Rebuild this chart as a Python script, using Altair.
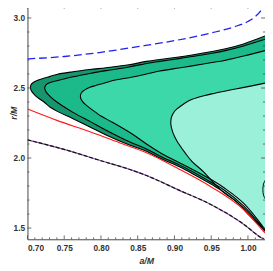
import altair as alt
import pandas as pd

# ---------------- data ----------------
x_major = [0.70, 0.75, 0.80, 0.85, 0.90, 0.95, 1.00]
x_minor = [0.71, 0.72, 0.73, 0.74, 0.76, 0.77, 0.78, 0.79, 0.81, 0.82, 0.83, 0.84,
           0.86, 0.87, 0.88, 0.89, 0.91, 0.92, 0.93, 0.94, 0.96, 0.97, 0.98, 0.99,
           1.01, 1.02]
y_major = [1.5, 2.0, 2.5, 3.0]
y_minor = [1.6, 1.7, 1.8, 1.9, 2.1, 2.2, 2.3, 2.4, 2.6, 2.7, 2.8, 2.9]

blue_a = [0.700, 0.750, 0.800, 0.850, 0.900, 0.950, 0.980, 1.000, 1.010, 1.018, 1.023]
blue_r = [2.708, 2.725, 2.755, 2.795, 2.838, 2.893, 2.935, 2.975, 3.010, 3.055, 3.100]

red_a = [0.700, 0.740, 0.785, 0.829, 0.862, 0.906, 0.950, 0.994, 1.023]
red_r = [2.350, 2.269, 2.188, 2.102, 2.038, 1.922, 1.794, 1.632, 1.465]

bd_a = [0.700, 0.751, 0.800, 0.844, 0.862, 0.906, 0.950, 0.994, 1.017, 1.022]
bd_r = [2.130, 2.060, 1.981, 1.910, 1.875, 1.771, 1.667, 1.528, 1.435, 1.420]

# region 1 (outermost, darkest)
r1_a = [0.704, 0.7045, 0.7055, 0.707, 0.7100, 0.714, 0.7225, 0.731, 0.740, 0.762,
        0.785, 0.807, 0.838, 0.862, 0.880, 0.906, 0.924, 0.951, 0.968, 0.994, 1.0232]
r1_up = [2.505, 2.519, 2.528, 2.536, 2.547, 2.556, 2.569, 2.583, 2.597, 2.616,
         2.632, 2.645, 2.666, 2.690, 2.704, 2.722, 2.736, 2.760, 2.778, 2.815, 2.871]
r1_lo = [2.505, 2.490, 2.479, 2.467, 2.450, 2.431, 2.400, 2.363, 2.335, 2.281,
         2.222, 2.165, 2.095, 2.049, 2.000, 1.939, 1.890, 1.810, 1.755, 1.644, 1.477]

# region 2
r2_a = [0.7235, 0.7245, 0.726, 0.7285, 0.731, 0.740, 0.762, 0.785, 0.807, 0.838,
        0.862, 0.880, 0.906, 0.924, 0.951, 0.968, 0.994, 1.0232]
r2_up = [2.500, 2.517, 2.526, 2.534, 2.540, 2.552, 2.580, 2.604, 2.624, 2.650,
         2.675, 2.690, 2.710, 2.725, 2.748, 2.765, 2.800, 2.848]
r2_lo = [2.500, 2.480, 2.467, 2.452, 2.439, 2.400, 2.326, 2.262, 2.199, 2.118,
         2.065, 2.015, 1.953, 1.905, 1.824, 1.770, 1.658, 1.484]

# region 3
r3_a = [0.772, 0.7725, 0.7735, 0.775, 0.778, 0.785, 0.793, 0.800, 0.815, 0.843,
        0.862, 0.880, 0.906, 0.924, 0.951, 0.968, 0.994, 1.0232]
r3_up = [2.442, 2.456, 2.466, 2.475, 2.487, 2.505, 2.518, 2.528, 2.552, 2.578,
         2.600, 2.621, 2.643, 2.658, 2.682, 2.697, 2.728, 2.767]
r3_lo = [2.442, 2.427, 2.415, 2.404, 2.386, 2.356, 2.326, 2.300, 2.257, 2.170,
         2.100, 2.040, 1.968, 1.920, 1.843, 1.786, 1.678, 1.491]

# region 4 (innermost, lightest)
r4_a = [0.895, 0.8955, 0.8965, 0.898, 0.900, 0.903, 0.906, 0.915, 0.924, 0.940,
        0.955, 0.968, 0.985, 1.000, 1.0232]
r4_up = [2.255, 2.282, 2.300, 2.316, 2.332, 2.349, 2.361, 2.395, 2.419, 2.445,
         2.463, 2.477, 2.495, 2.510, 2.535]
r4_lo = [2.255, 2.226, 2.204, 2.180, 2.156, 2.126, 2.100, 2.033, 1.975, 1.900,
         1.815, 1.750, 1.685, 1.600, 1.485]

# small loop at the right edge
loop_a = [1.0232, 1.0212, 1.0203, 1.0212, 1.0232]
loop_r = [1.840, 1.815, 1.775, 1.735, 1.710]

region_colors = ["#17956d", "#1cba8a", "#3dd8aa", "#9af0d9"]

FONT = "Liberation Sans"
FRAME = "#444444"
W, H = 244, 241


def build(height, ytop, pad_top):
    xs = alt.Scale(domain=[0.70, 1.0232], nice=False, zero=False)
    ys = alt.Scale(domain=[1.42, ytop], nice=False, zero=False)

    xaxis = alt.Axis(values=x_major, format=".2f", title="a/M", ticks=False, tickSize=0,
                     domain=False, grid=False, labelFont=FONT, labelFontWeight="bold",
                     labelFontSize=8.5, labelColor="#333333", labelPadding=5,
                     titleFont=FONT, titleFontStyle="italic", titleFontWeight="bold",
                     titleFontSize=9, titleColor="#333333", titleBaseline="middle",
                     titleY=22)
    yaxis = alt.Axis(values=y_major, format=".1f", title="r/M", ticks=False, tickSize=0,
                     domain=False, grid=False, labelFont=FONT, labelFontWeight="bold",
                     labelFontSize=8.5, labelColor="#333333", labelPadding=3,
                     titleFont=FONT, titleFontStyle="italic", titleFontWeight="bold",
                     titleFontSize=9, titleColor="#333333", titleBaseline="middle",
                     titleX=-14, titleY=111 + (height - H), titleAngle=270)

    def X(f):
        return alt.X(f, scale=xs, axis=xaxis)

    def Y(f):
        return alt.Y(f, scale=ys, axis=yaxis)

    layers = []
    regions = [(r1_a, r1_lo, r1_up), (r2_a, r2_lo, r2_up),
               (r3_a, r3_lo, r3_up), (r4_a, r4_lo, r4_up)]
    for i, (a, lo, up) in enumerate(regions):
        df = pd.DataFrame({"a": a, "lo": lo, "up": up})
        layers.append(
            alt.Chart(df).mark_area(color=region_colors[i], opacity=1,
                                    interpolate="catmull-rom", clip=True).encode(
                x=X("a:Q"), y=Y("lo:Q"), y2="up:Q"))
    for a, lo, up in regions:
        pa = list(reversed(a)) + list(a[1:])
        pr = list(reversed(up)) + list(lo[1:])
        df = pd.DataFrame({"a": pa, "r": pr, "s": list(range(len(pa)))})
        layers.append(
            alt.Chart(df).mark_line(color="black", strokeWidth=1.1,
                                    interpolate="catmull-rom", clip=True).encode(
                x=X("a:Q"), y=Y("r:Q"), order="s:Q"))
    loop_df = pd.DataFrame({"a": loop_a, "r": loop_r, "s": list(range(len(loop_a)))})
    layers.append(
        alt.Chart(loop_df).mark_line(color="black", strokeWidth=1.0,
                                     interpolate="catmull-rom", clip=True).encode(
            x=X("a:Q"), y=Y("r:Q"), order="s:Q"))

    red_df = pd.DataFrame({"a": red_a, "r": red_r})
    layers.append(alt.Chart(red_df).mark_line(color="#ff1a1a", strokeWidth=1.2,
                                              interpolate="monotone", clip=True).encode(
        x=X("a:Q"), y=Y("r:Q")))

    bd_df = pd.DataFrame({"a": bd_a, "r": bd_r})
    layers.append(alt.Chart(bd_df).mark_line(color="#8a4fa8", strokeWidth=1.2,
                                             interpolate="monotone", clip=True).encode(
        x=X("a:Q"), y=Y("r:Q")))
    layers.append(alt.Chart(bd_df).mark_line(color="#111111", strokeWidth=1.2,
                                             strokeDash=[4, 2],
                                             interpolate="monotone", clip=True).encode(
        x=X("a:Q"), y=Y("r:Q")))

    blue_df = pd.DataFrame({"a": blue_a, "r": blue_r})
    layers.append(alt.Chart(blue_df).mark_line(color="#2020f0", strokeWidth=1.3,
                                               strokeDash=[8, 4],
                                               interpolate="monotone", clip=True).encode(
        x=X("a:Q"), y=Y("r:Q")))

    # frame ticks (inward, all four sides)
    for vals, ln in ((x_major, 4), (x_minor, 2)):
        tdf = pd.DataFrame({"t": vals})
        layers.append(alt.Chart(tdf).mark_rule(color=FRAME, strokeWidth=0.8).encode(
            x=X("t:Q"), y=alt.value(height), y2=alt.value(height - ln)))
        layers.append(alt.Chart(tdf).mark_rule(color=FRAME, strokeWidth=0.8).encode(
            x=X("t:Q"), y=alt.value(0), y2=alt.value(ln)))
    for vals, ln in ((y_major, 4), (y_minor, 2)):
        tdf = pd.DataFrame({"t": vals})
        layers.append(alt.Chart(tdf).mark_rule(color=FRAME, strokeWidth=0.8).encode(
            y=Y("t:Q"), x=alt.value(0), x2=alt.value(ln)))
        layers.append(alt.Chart(tdf).mark_rule(color=FRAME, strokeWidth=0.8).encode(
            y=Y("t:Q"), x=alt.value(W), x2=alt.value(W - ln)))

    ch = alt.layer(*layers).properties(
        width=W, height=height, autosize="none",
        padding={"left": 20, "top": pad_top, "right": 0, "bottom": 29},
    ).configure_view(stroke=FRAME, strokeWidth=1)
    return ch


try:
    chart = build(H, 3.095, -7)
    chart.to_dict()
except Exception:
    chart = build(234, 3.0465, 0)

chart.save("out.html", embed_options={"renderer": "svg", "actions": False})
